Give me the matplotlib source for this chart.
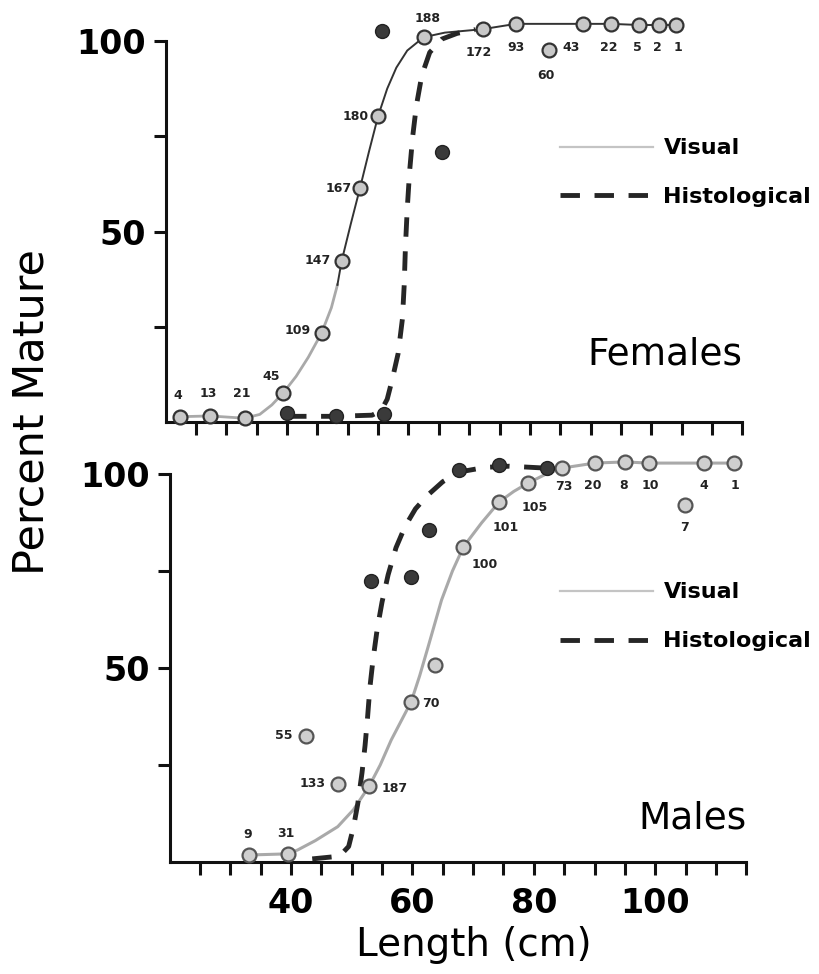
import matplotlib
matplotlib.use('Agg')
import matplotlib.pyplot as plt
from matplotlib.lines import Line2D

# ---------------- Females (top panel) ----------------
f_vis_len = [22.4, 27.3, 33.0, 39.4, 45.7, 49.0, 52.0, 55.0, 62.5, 72.2,
             77.7, 83.1, 88.7, 93.4, 98.0, 101.3, 104.1]
f_vis_pct = [1.4, 1.6, 1.0, 7.7, 23.4, 42.3, 61.3, 80.3, 101.0, 103.1,
             104.5, 97.6, 104.5, 104.5, 104.2, 104.2, 104.2]
f_vis_n = ['4', '13', '21', '45', '109', '147', '167', '180', '188', '172',
           '93', '60', '43', '22', '5', '2', '1']

f_hist_len = [40.0, 48.0, 55.9, 55.6, 65.5]
f_hist_pct = [2.4, 1.6, 2.1, 102.6, 70.9]

f_vis_curve_len = [22.4, 27.3, 33.0, 35.5, 37.5, 39.4, 41.5, 43.5, 45.7, 47.3,
                   48.3, 49.0, 50.5, 52.0, 53.5, 55.0, 56.5, 58.0, 59.8, 62.5,
                   66.0, 72.2, 77.7, 88.7, 93.4, 98.0, 101.3, 104.1]
f_vis_curve_pct = [1.4, 1.6, 1.0, 2.0, 4.5, 7.7, 12.0, 17.0, 23.4, 30.0,
                   36.0, 42.3, 52.0, 61.3, 71.0, 80.3, 87.5, 93.0, 97.5, 101.0,
                   102.2, 103.1, 104.5, 104.5, 104.5, 104.2, 104.2, 104.2]

f_hist_curve_len = [40.0, 48.0, 54.0, 55.5, 56.5, 57.3, 58.3, 59.0, 59.3, 59.5,
                    59.8, 60.2, 60.7, 61.3, 62.2, 63.5, 65.5, 68.0, 71.0]
f_hist_curve_pct = [1.5, 1.5, 1.8, 3.0, 6.0, 11.0, 18.0, 27.0, 36.0, 46.0,
                    56.0, 66.0, 75.0, 83.0, 91.0, 97.0, 100.5, 102.0, 103.0]

# ---------------- Males (bottom panel) ----------------
m_vis_len = [33.1, 39.5, 42.5, 47.7, 52.9, 59.8, 63.8, 68.4, 74.3, 79.1,
             84.6, 90.0, 95.0, 98.9, 104.9, 108.0, 112.9]
m_vis_pct = [1.8, 2.1, 32.5, 20.1, 19.6, 41.3, 50.8, 81.2, 92.8, 97.7,
             101.5, 102.8, 103.1, 102.8, 92.0, 102.8, 102.8]
m_vis_n = ['9', '31', '55', '133', '187', '70', '', '100', '101', '105',
           '73', '20', '8', '10', '7', '4', '1']

m_hist_len = [53.2, 59.8, 62.8, 67.7, 74.2, 82.1]
m_hist_pct = [72.4, 73.5, 85.6, 101.0, 102.3, 101.5]

m_vis_curve_len = [33.1, 39.5, 41.1, 44.0, 47.7, 50.3, 52.9, 54.7, 56.5, 58.2,
                   59.8, 61.2, 62.6, 64.8, 66.6, 68.4, 71.4, 74.3, 76.7, 79.1,
                   81.8, 84.6, 90.0, 95.0, 98.9, 108.0, 112.9]
m_vis_curve_pct = [1.8, 2.1, 3.1, 5.5, 9.1, 13.5, 19.6, 25.0, 31.4, 36.5,
                   41.3, 48.0, 55.5, 67.5, 75.0, 81.2, 87.4, 92.8, 95.5, 97.7,
                   99.8, 101.5, 102.8, 103.1, 102.8, 102.8, 102.8]

m_hist_curve_len = [43.5, 48.0, 49.5, 50.3, 51.0, 51.7, 52.2, 52.6, 53.0, 53.5,
                    54.2, 55.0, 56.0, 57.3, 58.8, 60.5, 62.5, 65.0, 67.7, 72.0,
                    76.0, 82.0]
m_hist_curve_pct = [0.8, 1.5, 4.0, 9.0, 15.0, 23.0, 30.0, 37.0, 45.0, 52.0,
                    60.0, 67.0, 74.0, 81.0, 86.5, 91.0, 94.5, 98.0, 100.5, 101.7,
                    102.0, 101.5]

x_ticks = list(range(25, 116, 5))
x_tick_labels = {40: '40', 60: '60', 80: '80', 100: '100'}

# label offsets (points) for the sample-size numbers
f_offsets = [(-2, 15.5), (-1, 16.5), (-2, 17.5), (-9, 11.5), (-17, 1.5), (-17, 0),
             (-15, 0), (-16.5, 0), (3, 13.5), (-3, -17), (0, -17), (-2, -18),
             (-8.5, -17), (-2, -17), (-1, -16.5), (-1, -16.5), (1, -16.5)]
m_offsets = [(-1, 14.5), (-1.5, 14.5), (-16, 0), (-18, 0), (18, -2), (14.5, -1),
             (0, 0), (15, -13), (5, -18.5), (4.5, -18), (1.5, -13), (-1, -16.5),
             (-1, -17), (1, -16.5), (0, -16.5), (0, -16.5), (1, -16.5)]

GRAY = '#a9a9a9'
DARK = '#262626'

plt.rcParams['font.family'] = ['DejaVu Sans']

fig = plt.figure(figsize=(8.2, 9.74), dpi=100)
ax_f = fig.add_axes([0.202, 0.5667, 0.7033, 0.3912])
ax_m = fig.add_axes([0.2068, 0.115, 0.7033, 0.3984])


def style_axes(ax, show_xlabels):
    ax.set_xlim(20, 115)
    ax.set_ylim(0, 100)
    for s in ['top', 'right']:
        ax.spines[s].set_visible(False)
    for s in ['left', 'bottom']:
        ax.spines[s].set_linewidth(2.2)
        ax.spines[s].set_color('#111111')
    ax.set_xticks(x_ticks)
    if show_xlabels:
        ax.set_xticklabels([x_tick_labels.get(t, '') for t in x_ticks])
    else:
        ax.set_xticklabels([])
    ax.set_yticks([25, 50, 75, 100])
    ax.set_yticklabels(['', '50', '', '100'])
    ax.tick_params(axis='both', direction='out', length=9, width=2.2,
                   color='#111111', labelsize=24)
    ax.tick_params(axis='x', pad=9)
    ax.tick_params(axis='y', pad=5)
    for lab in ax.get_xticklabels() + ax.get_yticklabels():
        lab.set_fontweight('bold')


def add_counts(ax, xs, ys, labels, offsets):
    for x, y, n, (dx, dy) in zip(xs, ys, labels, offsets):
        if n:
            ax.annotate(n, (x, y), xytext=(dx, dy), textcoords='offset points',
                        ha='center', va='center', fontsize=9, fontweight='bold',
                        color='#222222', annotation_clip=False)


def add_legend(ax, anchor):
    handles = [Line2D([], [], color='#c4c4c4', lw=1.6),
               Line2D([], [], color=DARK, lw=3.5, dashes=(4, 3))]
    ax.legend(handles, ['Visual', 'Histological'], loc='upper left',
              bbox_to_anchor=anchor, bbox_transform=fig.transFigure,
              frameon=False, prop={'weight': 'bold', 'size': 16},
              handlelength=4.2, handletextpad=0.45, labelspacing=1.3,
              borderpad=0, borderaxespad=0)


# ---- Females ----
style_axes(ax_f, False)
split = 48.3
lo = [(x, y) for x, y in zip(f_vis_curve_len, f_vis_curve_pct) if x <= split]
hi = [(x, y) for x, y in zip(f_vis_curve_len, f_vis_curve_pct) if x >= split]
ax_f.plot([p[0] for p in lo], [p[1] for p in lo], color=GRAY, lw=2.0,
          clip_on=False, zorder=2)
ax_f.plot([p[0] for p in hi], [p[1] for p in hi], color='#333333', lw=1.4,
          clip_on=False, zorder=2)
ax_f.plot(f_hist_curve_len, f_hist_curve_pct, color=DARK, lw=3.5,
          dashes=(4, 3), clip_on=False, zorder=3)
ax_f.plot(f_vis_len, f_vis_pct, 'o', ms=10, mfc='#c8c8c8', mec='#333333',
          mew=1.6, clip_on=False, zorder=4)
ax_f.plot(f_hist_len, f_hist_pct, 'o', ms=10, mfc='#3a3a3a', mec='#222222',
          clip_on=False, zorder=5)
add_counts(ax_f, f_vis_len, f_vis_pct, f_vis_n, f_offsets)
ax_f.text(1.0, 0.176, 'Females', transform=ax_f.transAxes, ha='right',
          va='center', fontsize=27)
add_legend(ax_f, (0.683, 0.858))

# ---- Males ----
style_axes(ax_m, True)
ax_m.plot(m_vis_curve_len, m_vis_curve_pct, color=GRAY, lw=2.2,
          clip_on=False, zorder=2)
ax_m.plot(m_hist_curve_len, m_hist_curve_pct, color=DARK, lw=3.5,
          dashes=(4, 3), clip_on=False, zorder=3)
ax_m.plot(m_vis_len, m_vis_pct, 'o', ms=10, mfc='#cfcfcf', mec='#555555',
          mew=1.6, clip_on=False, zorder=4)
ax_m.plot(m_hist_len, m_hist_pct, 'o', ms=10, mfc='#3a3a3a', mec='#222222',
          clip_on=False, zorder=5)
add_counts(ax_m, m_vis_len, m_vis_pct, m_vis_n, m_offsets)
ax_m.text(1.0, 0.113, 'Males', transform=ax_m.transAxes, ha='right',
          va='center', fontsize=27)
add_legend(ax_m, (0.683, 0.402))

fig.text(32 / 820, 1 - 412 / 974, 'Percent Mature', rotation=90,
         ha='center', va='center', fontsize=31)
fig.text(474 / 820, 1 - 945 / 974, 'Length (cm)', ha='center', va='center',
         fontsize=28)

fig.savefig('out.png', dpi=100)
